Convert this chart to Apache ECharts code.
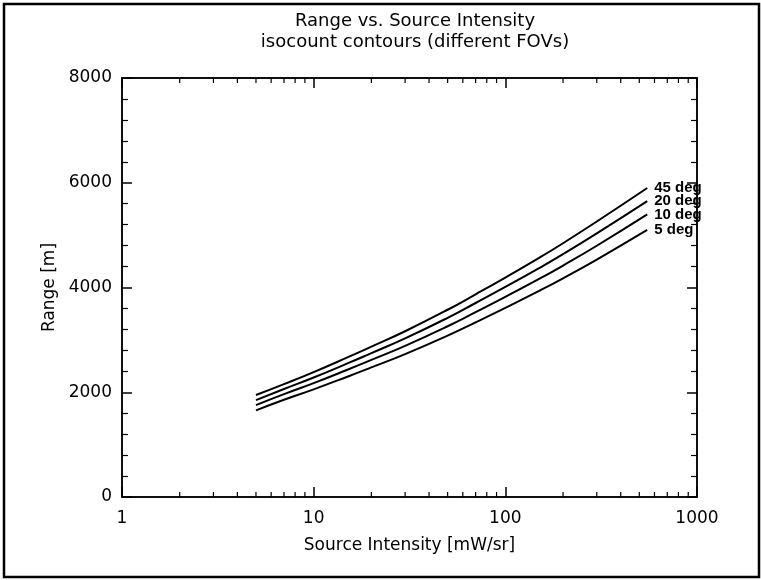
<!DOCTYPE html>
<html>
<head>
<meta charset="utf-8">
<script src="https://cdn.jsdelivr.net/npm/echarts@6/dist/echarts.min.js"></script>
<style>
  html, body { margin: 0; padding: 0; background: #fff; }
  #chart { width: 761px; height: 580px; }
</style>
</head>
<body>
<div id="chart"></div>
<script>
// Source intensity samples [mW/sr]
const intensity = [5, 7, 10, 15, 20, 30, 50, 70, 100, 150, 200, 300, 550];
// Range [m] isocount contours for each field of view
const fov45 = [1947, 2155, 2385, 2665, 2870, 3165, 3575, 3870, 4190, 4565, 4845, 5260, 5900];
const fov20 = [1850, 2062, 2282, 2550, 2747, 3029, 3421, 3704, 4010, 4369, 4637, 5034, 5650];
const fov10 = [1755, 1965, 2175, 2430, 2617, 2886, 3260, 3529, 3821, 4163, 4419, 4797, 5395];
const fov5  = [1655, 1858, 2056, 2297, 2474, 2728, 3082, 3336, 3612, 3935, 4176, 4534, 5100];
const fovNames = ['45 deg', '20 deg', '10 deg', '5 deg'];
const xTickLabels = ['1', '10', '100', '1000'];
const yTickValues = [0, 2000, 4000, 6000, 8000];

// minor decade ticks for the log axis
const logMinor = [];
[1, 10, 100].forEach(d => { for (let k = 2; k <= 9; k++) logMinor.push(d * k); });

const chart = echarts.init(document.getElementById('chart'));
const FONT = '"DejaVu Sans", sans-serif';

function curve(name, vals) {
  return {
    name: name,
    type: 'line',
    data: intensity.map((x, i) => [x, vals[i]]),
    smooth: true,
    symbol: 'none',
    lineStyle: { color: '#000', width: 2 },
    endLabel: {
      show: true,
      formatter: name,
      color: '#000',
      fontFamily: '"Liberation Sans", Arial, sans-serif',
      fontWeight: 'bold',
      fontSize: 15,
      distance: 7
    },
    z: 3
  };
}

// short minor ticks between decades along one horizontal edge
function minorTicks(axisIndex, yEdge, dir) {
  return {
    type: 'custom',
    silent: true,
    clip: false,
    xAxisIndex: axisIndex,
    data: logMinor.map(v => [v]),
    renderItem: function (params, api) {
      const p = api.coord([api.value(0), yEdge]);
      return {
        type: 'line',
        shape: { x1: p[0], y1: p[1], x2: p[0], y2: p[1] + dir * 5 },
        style: { stroke: '#000', lineWidth: 1.2 }
      };
    },
    encode: { x: 0 },
    z: 2
  };
}

function axisLine() { return { show: true, onZero: false, lineStyle: { color: '#000', width: 1.5 } }; }
function majorTick() { return { show: true, inside: true, length: 10, lineStyle: { color: '#000', width: 1.5 } }; }
function yMinor() { return { show: true, splitNumber: 5, length: 6, lineStyle: { color: '#000', width: 1.2 } }; }

const option = {
  animation: false,
  backgroundColor: '#fff',
  title: {
    text: 'Range vs. Source Intensity\nisocount contours (different FOVs)',
    left: 410,
    top: 6,
    textAlign: 'center',
    textStyle: { fontFamily: FONT, fontWeight: 'normal', fontSize: 18, lineHeight: 21, color: '#000' }
  },
  grid: {
    left: 122, right: 64, top: 78, bottom: 83,
    show: true, borderColor: '#000', borderWidth: 1.5, backgroundColor: 'transparent'
  },
  xAxis: [{
    type: 'log', logBase: 10, min: 1, max: 1000, position: 'bottom',
    name: 'Source Intensity [mW/sr]', nameLocation: 'middle', nameGap: 40,
    nameTextStyle: { fontFamily: FONT, fontSize: 17, color: '#000' },
    axisLine: axisLine(),
    axisTick: majorTick(),
    axisLabel: {
      fontFamily: FONT, fontSize: 17, color: '#000', margin: 13,
      formatter: v => xTickLabels.find(t => Number(t) === Math.round(v)) || ''
    },
    splitLine: { show: false }
  }, {
    type: 'log', logBase: 10, min: 1, max: 1000, position: 'top',
    axisLine: axisLine(),
    axisTick: majorTick(),
    axisLabel: { show: false },
    splitLine: { show: false }
  }],
  yAxis: [{
    type: 'value', min: 0, max: 8000, interval: 2000, position: 'left',
    name: 'Range [m]', nameLocation: 'middle', nameGap: 63, nameRotate: 90,
    nameTextStyle: { fontFamily: FONT, fontSize: 17, color: '#000' },
    axisLine: axisLine(),
    axisTick: majorTick(),
    minorTick: yMinor(),
    axisLabel: {
      fontFamily: FONT, fontSize: 17, color: '#000', margin: 10,
      formatter: v => yTickValues.includes(v) ? String(v) : ''
    },
    splitLine: { show: false }
  }, {
    type: 'value', min: 0, max: 8000, interval: 2000, position: 'right',
    axisLine: axisLine(),
    axisTick: majorTick(),
    minorTick: yMinor(),
    axisLabel: { show: false },
    splitLine: { show: false }
  }],
  series: [
    curve(fovNames[0], fov45),
    curve(fovNames[1], fov20),
    curve(fovNames[2], fov10),
    curve(fovNames[3], fov5),
    minorTicks(0, 0, -1),
    minorTicks(1, 8000, 1)
  ],
  graphic: [{
    type: 'rect',
    shape: { x: 4, y: 4, width: 755, height: 573 },
    style: { fill: 'none', stroke: '#000', lineWidth: 2.5 },
    silent: true
  }]
};

chart.setOption(option);
</script>
</body>
</html>
